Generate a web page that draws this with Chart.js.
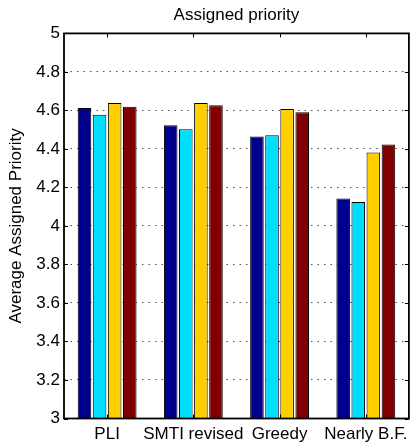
<!DOCTYPE html>
<html>
<head>
<meta charset="utf-8">
<script src="https://cdn.jsdelivr.net/npm/chart.js@4/dist/chart.umd.min.js"></script>
<style>
  html, body { margin: 0; padding: 0; background: #fff; }
  #wrap { width: 414px; height: 442px; }
</style>
</head>
<body>
<div id="wrap"><canvas id="priorityChart" width="414" height="442"></canvas></div>
<script>
const categories = ['PLI', 'SMTI revised', 'Greedy', 'Nearly B.F.'];
const series1 = [4.612, 4.523, 4.464, 4.143];
const series2 = [4.577, 4.502, 4.471, 4.124];
const series3 = [4.638, 4.638, 4.607, 4.381];
const series4 = [4.619, 4.627, 4.591, 4.423];
const yTicks = [3, 3.2, 3.4, 3.6, 3.8, 4, 4.2, 4.4, 4.6, 4.8, 5];

const seriesColors = ['#00008f', '#00dfff', '#ffcf00', '#800000'];
const fontFamily = '"Liberation Sans", Arial, Helvetica, sans-serif';

// box around the axes with inward tick marks, like matlab
const axesBox = {
    id: 'axesBox',
    afterDraw(chart) {
        const ctx = chart.ctx;
        const area = chart.chartArea;
        const x = chart.scales.x;
        const y = chart.scales.y;
        const len = 4;
        ctx.save();
        ctx.strokeStyle = '#000';
        ctx.lineWidth = 1;
        ctx.beginPath();
        y.ticks.forEach(function(t) {
            const py = Math.round(y.getPixelForValue(t.value)) + 0.5;
            ctx.moveTo(area.left, py);
            ctx.lineTo(area.left + len, py);
            ctx.moveTo(area.right, py);
            ctx.lineTo(area.right - len, py);
        });
        x.ticks.forEach(function(t, i) {
            const px = Math.round(x.getPixelForTick(i)) + 0.5;
            ctx.moveTo(px, area.top);
            ctx.lineTo(px, area.top + len);
            ctx.moveTo(px, area.bottom);
            ctx.lineTo(px, area.bottom - len);
        });
        ctx.stroke();
        ctx.lineWidth = 1.8;
        ctx.strokeRect(area.left, area.top, area.right - area.left, area.bottom - area.top);
        ctx.restore();
    }
};

const ctx = document.getElementById('priorityChart').getContext('2d');
const datasets = [series1, series2, series3, series4].map(function(values, i) {
    return {
        label: 'Series ' + (i + 1),
        data: values,
        backgroundColor: seriesColors[i],
        borderColor: '#000',
        borderWidth: 1,
        borderSkipped: 'bottom',
        categoryPercentage: 0.7,
        barPercentage: 0.9
    };
});

new Chart(ctx, {
    type: 'bar',
    data: { labels: categories, datasets: datasets },
    options: {
        responsive: false,
        animation: false,
        layout: { padding: { left: 0, right: 4, top: 0, bottom: 0 } },
        plugins: {
            legend: { display: false },
            tooltip: { enabled: false },
            title: {
                display: true,
                fullSize: false, // centre over the axes, not the whole canvas
                text: 'Assigned priority',
                color: '#000',
                font: { family: fontFamily, size: 17, weight: 'normal' },
                padding: { top: 5, bottom: 8 }
            }
        },
        scales: {
            x: {
                offset: true,
                grid: { display: false, drawTicks: false },
                border: { display: false },
                ticks: {
                    color: '#000',
                    padding: 6,
                    maxRotation: 0,
                    autoSkip: false,
                    font: { family: fontFamily, size: 17 }
                },
                afterFit: function(s) { s.height = 23.5; }
            },
            y: {
                min: 3,
                max: 5,
                afterBuildTicks: function(s) {
                    s.ticks = yTicks.map(function(v) { return { value: v }; });
                },
                grid: { color: '#555', lineWidth: 1, drawTicks: false },
                border: { display: false, dash: [1.5, 5] },
                ticks: {
                    color: '#000',
                    padding: 4,
                    font: { family: fontFamily, size: 17 },
                    callback: function(v) { return String(Math.round(v * 10) / 10); }
                },
                title: {
                    display: true,
                    text: 'Average Assigned Priority',
                    color: '#000',
                    font: { family: fontFamily, size: 17 },
                    padding: { top: 6, bottom: 0 }
                },
                afterFit: function(s) { s.width = 64; }
            }
        }
    },
    plugins: [axesBox]
});
</script>
</body>
</html>
